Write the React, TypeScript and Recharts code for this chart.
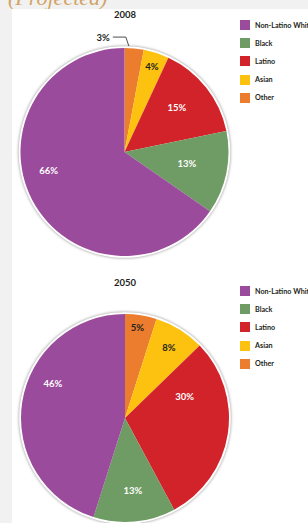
import { PieChart, Pie, Cell } from "recharts";

const GROUPS = ["Non-Latino White", "Black", "Latino", "Asian", "Other"];
const COLORS = ["#9a4b9c", "#6f9c64", "#d2232a", "#fdc20f", "#ec7d2e"];
const SHARE_2008 = [66, 13, 15, 4, 3];
const SHARE_2050 = [46, 13, 30, 8, 5];

// slices go clockwise from 12 o'clock: Other, Asian, Latino, Black, White
const PIE_ORDER = [4, 3, 2, 1, 0];

const buildPie = (shares: number[]) =>
  PIE_ORDER.map(i => ({ name: GROUPS[i], value: shares[i], color: COLORS[i] }));

const pie2008 = buildPie(SHARE_2008);
const pie2050 = buildPie(SHARE_2050);

// label placement tweaks (radius fraction, angle shift in degrees), by slice
type LabelCfg = { r?: number; shift: number; outside?: boolean };
const LABELS_2008: LabelCfg[] = [
  { outside: true, shift: -3 },
  { r: 0.86, shift: 0 },
  { r: 0.66, shift: -2 },
  { r: 0.61, shift: -1 },
  { r: 0.75, shift: 14 }
];
const LABELS_2050: LabelCfg[] = [
  { r: 0.88, shift: -1 },
  { r: 0.8, shift: 0 },
  { r: 0.61, shift: -29 },
  { r: 0.7, shift: -1 },
  { r: 0.77, shift: 17 }
];

const RAD = Math.PI / 180;
const FONT = "Lato, 'Liberation Sans', sans-serif";
const R = 104;

const makeLabel = (cfg: LabelCfg[], data: { name: string }[]) => (props: any) => {
  const { cx, cy, midAngle, outerRadius, index, value } = props;
  const c = cfg[index];
  const a = (90 - midAngle + c.shift) * RAD;
  const dark = data[index].name === "Other" || data[index].name === "Asian";
  if (c.outside) {
    const x1 = cx + (outerRadius + 2) * Math.sin(a);
    const y1 = cy - (outerRadius + 2) * Math.cos(a);
    const ex = x1 - 3;
    const ey = y1 - 9;
    const hx = ex - 13;
    return (
      <g>
        <polyline
          points={`${x1},${y1} ${ex},${ey} ${hx},${ey}`}
          fill="none"
          stroke="#231f20"
          strokeWidth={0.8}
        />
        <text
          x={hx - 3}
          y={ey}
          textAnchor="end"
          dominantBaseline="central"
          fontFamily={FONT}
          fontWeight={700}
          fontSize={9.5}
          fill="#231f20"
        >
          {value}%
        </text>
      </g>
    );
  }
  const rr = outerRadius * (c.r || 0.7);
  return (
    <text
      x={cx + rr * Math.sin(a)}
      y={cy - rr * Math.cos(a)}
      textAnchor="middle"
      dominantBaseline="central"
      fontFamily={FONT}
      fontWeight={700}
      fontSize={9.5}
      fill={dark ? "#231f20" : "#ffffff"}
    >
      {value}%
    </text>
  );
};

function Legend({ top }: { top: number }) {
  return (
    <div style={{ position: "absolute", left: 239, top, width: 80 }}>
      {GROUPS.map((g, i) => (
        <div
          key={g}
          style={{ display: "flex", alignItems: "center", height: 18.2 }}
        >
          <div
            style={{
              width: 12,
              height: 12,
              background: COLORS[i],
              border: "1px solid #fff",
              boxSizing: "border-box",
              flex: "none"
            }}
          />
          <span
            style={{
              marginLeft: 4,
              fontFamily: FONT,
              fontWeight: 700,
              fontSize: 7.2,
              color: "#231f20",
              whiteSpace: "nowrap"
            }}
          >
            {g}
          </span>
        </div>
      ))}
    </div>
  );
}

function Title({ text, top }: { text: string; top: number }) {
  return (
    <div
      style={{
        position: "absolute",
        left: 75,
        width: 100,
        top,
        textAlign: "center",
        fontFamily: FONT,
        fontWeight: 700,
        fontSize: 9.5,
        color: "#231f20"
      }}
    >
      {text}
    </div>
  );
}

function PieSet({ data, cfg, cx, cy }: any) {
  return [
    <Pie
      key="bg"
      data={[{ value: 1 }]}
      dataKey="value"
      cx={cx}
      cy={cy}
      outerRadius={R + 1.8}
      stroke="none"
      isAnimationActive={false}
    >
      <Cell
        fill="#ffffff"
        style={{ filter: "drop-shadow(0px 0px 1.5px rgba(0,0,0,0.45))" }}
      />
    </Pie>,
    <Pie
      key="main"
      data={data}
      dataKey="value"
      nameKey="name"
      cx={cx}
      cy={cy}
      outerRadius={R}
      startAngle={90}
      endAngle={-270}
      stroke="none"
      labelLine={false}
      label={makeLabel(cfg, data)}
      isAnimationActive={false}
    >
      {data.map((d: any) => (
        <Cell key={d.name} fill={d.color} />
      ))}
    </Pie>
  ];
}

export default function App() {
  return (
    <div
      style={{
        position: "absolute",
        left: 0,
        top: 0,
        width: 308,
        height: 523,
        background: "#f1f1f1",
        overflow: "hidden"
      }}
    >
      <div
        style={{
          position: "absolute",
          left: 8,
          top: -15,
          fontFamily: "'Liberation Serif', serif",
          fontStyle: "italic",
          fontSize: 22,
          color: "#d1a466",
          whiteSpace: "nowrap"
        }}
      >
        (Projected)
      </div>
      <div
        style={{
          position: "absolute",
          left: 12,
          top: 9,
          right: 0,
          bottom: 0,
          background: "#ffffff"
        }}
      />
      <PieChart
        width={308}
        height={523}
        margin={{ top: 0, right: 0, bottom: 0, left: 0 }}
        style={{ position: "absolute", left: 0, top: 0 }}
      >
        {PieSet({ data: pie2008, cfg: LABELS_2008, cx: 124.5, cy: 152 })}
        {PieSet({ data: pie2050, cfg: LABELS_2050, cx: 125, cy: 418 })}
      </PieChart>
      <Title text="2008" top={9} />
      <Title text="2050" top={277} />
      <Legend top={16} />
      <Legend top={282} />
    </div>
  );
}
